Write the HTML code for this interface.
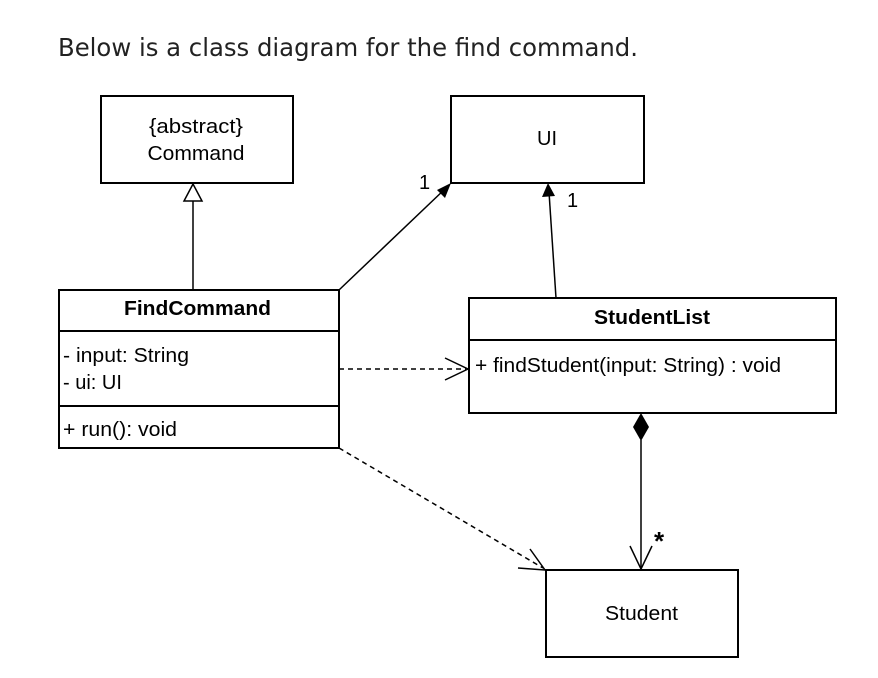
<!DOCTYPE html>
<html><head><style>body{margin:0;background:#fff}svg{display:block}</style></head><body>
<svg width="878" height="678" viewBox="0 0 878 678" xmlns="http://www.w3.org/2000/svg" font-family="Liberation Sans, Arial, sans-serif">
<text x="58" y="56" font-size="25" fill="#222" textLength="580" lengthAdjust="spacingAndGlyphs" font-family="DejaVu Sans, Liberation Sans, sans-serif">Below is a class diagram for the find command.</text>
<g fill="none" stroke="#000" stroke-width="2">
<rect x="101" y="96" width="192" height="87"/>
<rect x="451" y="96" width="193" height="87"/>
<rect x="59" y="290" width="280" height="158"/>
<line x1="59" y1="331" x2="339" y2="331"/>
<line x1="59" y1="406" x2="339" y2="406"/>
<rect x="469" y="298" width="367" height="115"/>
<line x1="469" y1="340" x2="836" y2="340"/>
<rect x="546" y="570" width="192" height="87"/>
</g>
<g stroke="#000" stroke-width="1.5" fill="none">
<line x1="193" y1="290" x2="193" y2="201"/>
<polygon points="193,184 184,201 202,201" fill="#fff"/>
<line x1="339" y1="290" x2="446" y2="188"/>
<line x1="556" y1="298" x2="549" y2="192"/>
<line x1="339" y1="369" x2="466" y2="369" stroke-dasharray="5,4"/>
<polyline points="445,358 468,369 445,380"/>
<line x1="339" y1="448" x2="543" y2="568" stroke-dasharray="5,4"/>
<polyline points="530,549 545,570 518,568"/>
<line x1="641" y1="440" x2="641" y2="569"/>
<polyline points="630,546 641,569 652,546"/>
</g>
<polygon points="451,183 437,190 445,198" fill="#000"/>
<polygon points="548,183 542,197 555,196" fill="#000"/>
<polygon points="641,413 649,427 641,441 633,427" fill="#000"/>
<g font-size="20" fill="#000">
<text x="196" y="133" text-anchor="middle" textLength="94" lengthAdjust="spacingAndGlyphs">{abstract}</text>
<text x="196" y="160" text-anchor="middle" textLength="97" lengthAdjust="spacingAndGlyphs">Command</text>
<text x="547" y="145" text-anchor="middle">UI</text>
<text x="124" y="315" font-weight="bold" textLength="147" lengthAdjust="spacingAndGlyphs">FindCommand</text>
<text x="63" y="362" textLength="126" lengthAdjust="spacingAndGlyphs">- input: String</text>
<text x="63" y="389">- ui: UI</text>
<text x="63" y="436" textLength="114" lengthAdjust="spacingAndGlyphs">+ run(): void</text>
<text x="594" y="324" font-weight="bold" textLength="116" lengthAdjust="spacingAndGlyphs">StudentList</text>
<text x="475" y="372" textLength="306" lengthAdjust="spacingAndGlyphs">+ findStudent(input: String) : void</text>
<text x="605" y="620" textLength="73" lengthAdjust="spacingAndGlyphs">Student</text>
<text x="419" y="189">1</text>
<text x="567" y="207">1</text>
<text x="654" y="550" font-size="26" font-weight="bold">*</text>
</g>
</svg>
</body></html>
